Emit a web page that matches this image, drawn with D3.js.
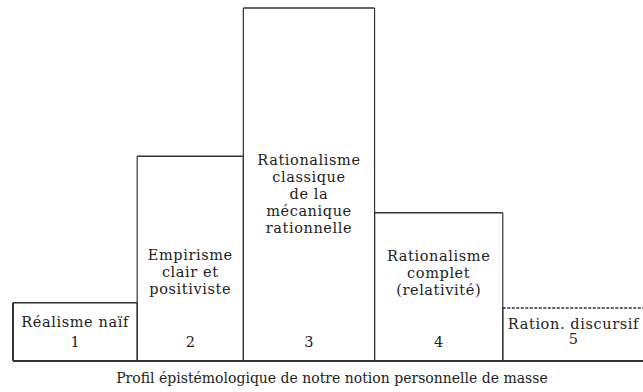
<!DOCTYPE html>
<html>
<head>
<meta charset="utf-8">
<script src="https://cdn.jsdelivr.net/npm/d3@7"></script>
<style>
  body { margin: 0; background: #fff; }
  svg { display: block; }
  text { font-family: "DejaVu Serif", "Liberation Serif", serif; fill: #222; }
</style>
</head>
<body>
<svg width="643" height="392"></svg>
<script>
// profil épistémologique : hauteur relative de chaque doctrine
const labelLines = [
  ["Réalisme naïf"],
  ["Empirisme", "clair et", "positiviste"],
  ["Rationalisme", "classique", "de la", "mécanique", "rationnelle"],
  ["Rationalisme", "complet", "(relativité)"],
  ["Ration. discursif"]
];
const ranks = [1, 2, 3, 4, 5];
const heights = [16.5, 58, 100, 42, 15];
const widths = [124, 106, 131, 128, 141];
const title = "Profil épistémologique de notre notion personnelle de masse";

const svg = d3.select("svg");
const baseY = 361;

const x = d3.scaleLinear().domain([0, d3.sum(widths)]).range([13, 644]);
const y = d3.scaleLinear().domain([0, 100]).range([baseY, 8]);

let acc = 0;
const bars = widths.map((w, i) => {
  const b = {i, x0: acc, x1: acc + w, h: heights[i], lines: labelLines[i], rank: ranks[i]};
  acc += w;
  return b;
});

// how far below the bar top the first label line sits (layout only)
const labelDrop = [24, 104, 157, 48, 21];
const lineGap = 17;

const g = svg.append("g");

bars.forEach(b => {
  const l = x(b.x0), r = x(b.x1), t = y(b.h);
  // sides
  g.append("line").attr("x1", l).attr("x2", l).attr("y1", t).attr("y2", baseY)
    .attr("stroke", "#333").attr("stroke-width", b.i === 0 ? 2 : 1.2);
  g.append("line").attr("x1", r).attr("x2", r).attr("y1", t).attr("y2", baseY)
    .attr("stroke", "#333").attr("stroke-width", 1.2);
  // top
  g.append("line").attr("x1", l).attr("x2", r).attr("y1", t).attr("y2", t)
    .attr("stroke", "#333").attr("stroke-width", 1.4)
    .attr("stroke-dasharray", b.i === 4 ? "3,1.5" : null);

  const cx = (l + r) / 2;
  const ty = t + labelDrop[b.i];
  b.lines.forEach((s, k) => {
    g.append("text").attr("x", cx).attr("y", ty + k * lineGap)
      .attr("text-anchor", "middle").attr("font-size", 14.5)
      .attr("letter-spacing", 0.6).text(s);
  });
  g.append("text").attr("x", cx).attr("y", b.i === 4 ? 344 : 347)
    .attr("text-anchor", "middle").attr("font-size", 14.5).text(b.rank);
});

// base line
g.append("line").attr("x1", x(0)).attr("x2", x(d3.sum(widths))).attr("y1", baseY).attr("y2", baseY)
  .attr("stroke", "#333").attr("stroke-width", 2);

svg.append("text").attr("x", 332).attr("y", 383).attr("text-anchor", "middle")
  .attr("font-size", 14).text(title);
</script>
</body>
</html>
